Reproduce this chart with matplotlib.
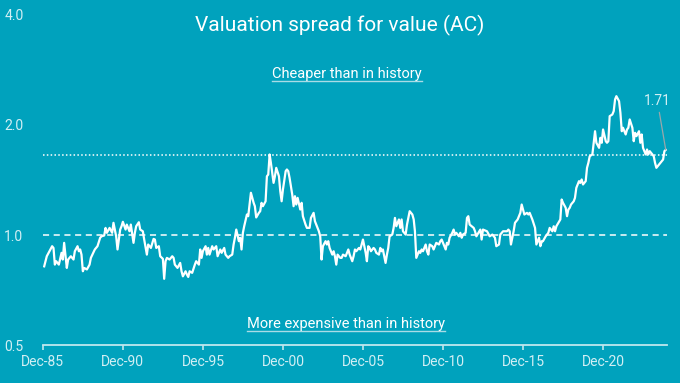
import numpy as np
import matplotlib
matplotlib.use("Agg")
import matplotlib.pyplot as plt
import matplotlib.dates as mdates
from matplotlib.lines import Line2D

# months after Dec-85 and the valuation spread
months = [1, 3, 5, 7, 8, 9, 10, 12, 14, 15, 16, 18, 19, 21, 23, 24, 26, 27, 28, 29,
          30, 31, 33, 35, 36, 39, 41, 43, 44, 46, 47, 48, 50, 52, 53, 55, 56, 57, 58, 59,
          60, 62, 63, 65, 66, 68, 69, 70, 72, 73, 75, 76, 78, 79, 81, 83, 84, 85, 87, 88,
          90, 91, 92, 93, 95, 97, 98, 99, 101, 103, 104, 105, 107, 108, 109, 110, 112, 114, 115, 117,
          118, 119, 120, 122, 123, 124, 125, 127, 128, 130, 131, 133, 134, 136, 137, 139, 140, 142, 143, 144,
          145, 147, 148, 149, 150, 151, 153, 154, 155, 156, 158, 159, 160, 162, 163, 164, 165, 167, 168, 169,
          170, 171, 172, 173, 174, 175, 177, 178, 179, 180, 182, 183, 184, 185, 187, 188, 189, 190, 191, 193,
          194, 195, 197, 198, 200, 201, 203, 204, 205, 207, 208, 209, 210, 212, 213, 214, 215, 217, 218, 219,
          220, 221, 223, 224, 225, 227, 228, 229, 230, 232, 233, 234, 235, 237, 238, 239, 240, 242, 243, 244,
          245, 246, 248, 249, 250, 252, 253, 254, 255, 257, 258, 259, 260, 262, 263, 264, 265, 267, 268, 269,
          270, 272, 273, 274, 275, 277, 278, 279, 280, 282, 283, 284, 285, 287, 288, 289, 290, 292, 293, 294,
          295, 297, 298, 299, 300, 302, 303, 304, 305, 307, 308, 309, 310, 312, 313, 314, 315, 317, 318, 319,
          320, 323, 324, 325, 328, 329, 330, 333, 335, 337, 339, 340, 342, 343, 345, 348, 349, 350, 351, 353,
          354, 356, 358, 359, 360, 361, 363, 364, 365, 367, 369, 370, 372, 373, 374, 375, 377, 379, 380, 382,
          383, 384, 385, 388, 389, 390, 392, 393, 394, 395, 396, 398, 399, 400, 402, 403, 404, 405, 407, 408,
          409, 410, 412, 413, 414, 415, 417, 418, 419, 420, 422, 423, 424, 425, 427, 428, 429, 430, 432, 433,
          434, 435, 437, 438, 439, 440, 442, 443, 444, 445, 447, 448, 449, 450, 452, 453, 454, 455, 457, 458,
          459, 460, 462, 463, 464, 465, 466, 467]
spread = [0.821, 0.875, 0.903, 0.932, 0.922, 0.830, 0.848, 0.830, 0.894, 0.857, 0.952, 0.813, 0.857, 0.875, 0.857, 0.903, 0.932, 0.903, 0.913, 0.884,
          0.796, 0.813, 0.805, 0.830, 0.866, 0.913, 0.932, 0.983, 0.992, 0.997, 1.046, 1.014, 1.046, 1.014, 1.080, 0.992, 0.913, 0.972, 1.035, 1.057,
          1.087, 1.035, 1.068, 1.024, 1.068, 0.952, 1.014, 1.057, 1.084, 1.035, 1.024, 0.972, 0.884, 0.942, 0.922, 0.976, 0.972, 0.922, 0.932, 0.875,
          0.861, 0.759, 0.848, 0.866, 0.857, 0.875, 0.866, 0.830, 0.813, 0.839, 0.796, 0.771, 0.796, 0.780, 0.768, 0.796, 0.788, 0.830, 0.848, 0.830,
          0.913, 0.866, 0.903, 0.932, 0.884, 0.922, 0.884, 0.932, 0.913, 0.932, 0.875, 0.913, 0.894, 0.922, 0.884, 0.866, 0.875, 0.884, 0.942, 0.983,
          1.035, 0.962, 0.983, 0.913, 1.014, 1.057, 1.138, 1.126, 1.212, 1.305, 1.225, 1.199, 1.117, 1.150, 1.162, 1.225, 1.199, 1.237, 1.448, 1.464,
          1.661, 1.576, 1.480, 1.389, 1.448, 1.527, 1.448, 1.318, 1.237, 1.332, 1.495, 1.511, 1.495, 1.434, 1.291, 1.199, 1.277, 1.212, 1.264, 1.174,
          1.225, 1.126, 1.068, 1.046, 1.046, 1.114, 1.150, 1.091, 1.068, 1.024, 0.992, 0.857, 0.932, 0.962, 0.942, 0.962, 0.922, 0.884, 0.903, 0.875,
          0.830, 0.884, 0.866, 0.866, 0.884, 0.875, 0.894, 0.913, 0.884, 0.848, 0.875, 0.913, 0.903, 0.922, 0.913, 0.942, 0.972, 0.894, 0.848, 0.932,
          0.922, 0.903, 0.922, 0.913, 0.894, 0.884, 0.922, 0.903, 0.913, 0.839, 0.884, 0.922, 0.992, 1.003, 1.046, 1.114, 1.057, 1.103, 1.046, 1.103,
          1.024, 1.003, 1.068, 1.114, 1.162, 1.138, 1.103, 1.024, 0.866, 0.903, 0.894, 0.913, 0.903, 0.942, 0.903, 0.884, 0.942, 0.932, 0.913, 0.932,
          0.952, 0.942, 0.962, 0.972, 0.952, 0.913, 0.952, 0.942, 0.983, 1.014, 1.035, 1.003, 1.014, 0.992, 1.014, 0.983, 1.003, 1.014, 1.114, 1.126,
          1.068, 1.046, 1.024, 0.992, 1.035, 0.972, 1.035, 1.024, 0.992, 1.003, 0.983, 0.932, 0.942, 1.003, 1.024, 1.024, 1.035, 1.024, 0.942, 1.024,
          1.080, 1.103, 1.150, 1.212, 1.174, 1.138, 1.150, 1.138, 1.150, 1.103, 1.046, 0.942, 0.983, 0.932, 0.962, 0.962, 0.992, 1.014, 1.046, 1.024,
          1.057, 1.024, 1.057, 1.103, 1.251, 1.225, 1.187, 1.126, 1.174, 1.187, 1.212, 1.237, 1.264, 1.346, 1.404, 1.389, 1.419, 1.375, 1.404, 1.527,
          1.576, 1.643, 1.661, 1.788, 1.923, 1.788, 1.732, 1.845, 1.788, 1.944, 1.806, 1.788, 1.806, 2.114, 2.137, 2.182, 2.349, 2.398, 2.324, 2.160,
          1.923, 1.965, 1.884, 1.944, 1.965, 2.071, 1.965, 1.806, 1.904, 1.864, 1.923, 1.788, 1.884, 1.732, 1.661, 1.714, 1.661, 1.696, 1.661, 1.643,
          1.576, 1.527, 1.559, 1.576, 1.592, 1.609, 1.696, 1.71]

average_level = 1.0
cheap_level = 1.66
last_label = "1.71"
y_ticks = [0.5, 1.0, 2.0, 4.0]
x_tick_years = [1985, 1990, 1995, 2000, 2005, 2010, 2015, 2020]

bg = "#00a2bd"
label_col = "#d2eff4"

plt.rcParams['font.family'] = ['Roboto', 'DejaVu Sans']

dates = np.datetime64('1985-12', 'M') + np.array(months)
dates = dates.astype('datetime64[D]')

fig = plt.figure(figsize=(6.8, 3.83), dpi=100, facecolor=bg)
ax = fig.add_axes([0.063, 0.099, 0.918, 0.862])
ax.set_facecolor(bg)

ax.axhline(average_level, color="white", lw=1.1, ls=(0, (4, 3)))
ax.axhline(cheap_level, color="white", lw=1.1, ls=(0, (1, 1.5)))
ax.plot(dates, spread, color="white", lw=1.6, solid_joinstyle="round")

ax.set_yscale("log", base=2)
ax.set_ylim(0.5, 4.0)
ax.set_yticks(y_ticks)
ax.set_yticklabels(["%.1f" % v for v in y_ticks])
ax.yaxis.set_minor_locator(matplotlib.ticker.NullLocator())

ax.set_xlim(np.datetime64('1985-12-01'), np.datetime64('2024-12-01'))
ax.set_xticks([np.datetime64('%d-12-01' % y) for y in x_tick_years])
ax.xaxis.set_major_formatter(mdates.DateFormatter('%b-%y'))

for s in ["top", "right", "left"]:
    ax.spines[s].set_visible(False)
ax.spines["bottom"].set_color("#bfe7ee")
ax.spines["bottom"].set_linewidth(1.3)
ax.tick_params(axis="x", colors="#bfe7ee", length=3.5, width=1.2, labelsize=10,
               labelcolor=label_col, pad=4)
ax.tick_params(axis="y", length=0, labelsize=10, labelcolor=label_col, pad=14)

# last value label
ax.annotate(last_label, xy=(dates[-1], spread[-1]), xytext=(-6, 30),
            textcoords="offset points", ha="center", va="bottom",
            color=label_col, fontsize=10,
            arrowprops=dict(arrowstyle="-", color="#9aa7aa", lw=0.9, shrinkA=1, shrinkB=0))

fig.text(0.5, 0.917, "Valuation spread for value (AC)", ha="center", va="baseline",
         color="white", fontsize=15)
t1 = fig.text(0.51, 0.796, "Cheaper than in history", ha="center", va="baseline",
              color="white", fontsize=10.5)
t2 = fig.text(0.509, 0.1436, "More expensive than in history", ha="center", va="baseline",
              color="white", fontsize=10.5)

# underline the two notes
fig.canvas.draw()
r = fig.canvas.get_renderer()
inv = fig.transFigure.inverted()
for t in [t1, t2]:
    bb = t.get_window_extent(r)
    _, yb = fig.transFigure.transform(t.get_position())
    (x0, y0), (x1, _) = inv.transform([(bb.x0, yb - 3), (bb.x1, yb - 3)])
    fig.add_artist(Line2D([x0, x1], [y0, y0], color="#a9dce6", lw=1.0))

fig.savefig("out.png", dpi=100, facecolor=bg)
